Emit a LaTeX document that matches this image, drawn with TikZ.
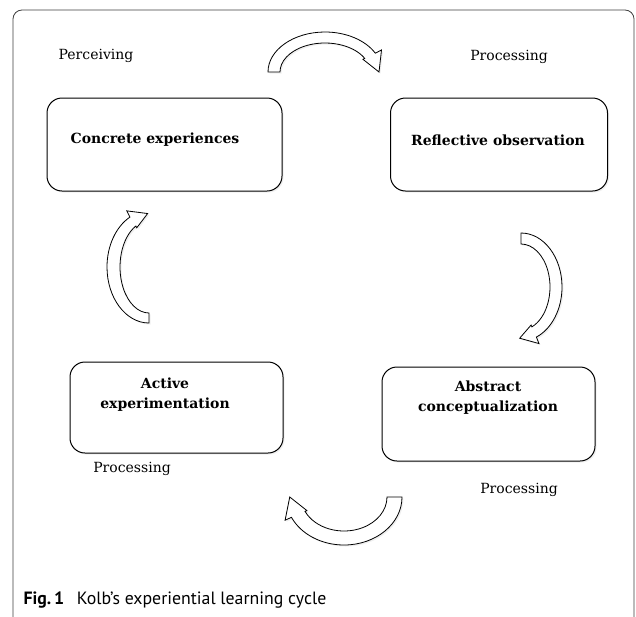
\documentclass[tikz,border=0pt]{standalone}
\usepackage{fontspec}
\setmainfont{DejaVu Serif}
\newfontfamily\captionfont{PT Sans}
\usetikzlibrary{positioning,calc,shadows}

\tikzset{
  frameline/.style={draw=black!75,line width=0.8pt,rounded corners=9pt},
  stage/.style={draw,line width=1pt,rounded corners=15pt,fill=white,
    drop shadow={shadow xshift=1.5pt,shadow yshift=-1.5pt,opacity=0.12}},
  stagetext/.style={font=\bfseries\fontsize{14}{20}\selectfont,align=center},
  phase/.style={font=\fontsize{14}{17}\selectfont},
  cyclearrow/.style={draw,line width=0.8pt,fill=white,line join=miter,
    drop shadow={shadow xshift=1.5pt,shadow yshift=-1.5pt,opacity=0.12}},
}

% curved block arrow: centre, outer radii, inner radii, start, end of shaft, tip angle
\newcommand{\bentarrow}[8]{%
  \pgfmathsetmacro\outa{#2+7}\pgfmathsetmacro\outb{#3+7}%
  \pgfmathsetmacro\ina{#4-2}\pgfmathsetmacro\inb{#5-2}%
  \pgfmathsetmacro\tipa{#2-(#2-#4)/4}\pgfmathsetmacro\tipb{#3-(#3-#5)/4}%
  \draw[cyclearrow] ($#1+(#6:{#2} and {#3})$)
    arc[start angle=#6,end angle=#7,x radius=#2,y radius=#3]
    -- ($#1+(#7:{\outa} and {\outb})$)
    -- ($#1+(#8:{\tipa} and {\tipb})$)
    -- ($#1+(#7:{\ina} and {\inb})$)
    -- ($#1+(#7:{#4} and {#5})$)
    arc[start angle=#7,end angle=#6,x radius=#4,y radius=#5] -- cycle;}

\begin{document}
\begin{tikzpicture}[x=1pt,y=-1pt]
\useasboundingbox[fill=white] (0,0) rectangle (636,616);
\draw[frameline] (13,620) -- (13,10) -- (634,10) -- (634,620);

% the four stages
\node[stage,minimum width=235pt,minimum height=93pt] (concrete) at (164.5,144.5) {};
\node[stage,minimum width=217pt,minimum height=93pt] (reflective) at (499,144.5) {};
\node[stage,minimum width=213pt,minimum height=91pt] (active) at (176.5,407.5) {};
\node[stage,minimum width=213pt,minimum height=94pt] (abstract) at (488.5,414) {};

\node[stagetext] (concretetext) at (155,140) {Concrete experiences};
\node[stagetext] (reflectivetext) at (498,140) {Reflective observation};
\node[stagetext] (activetext) at (165,395) {Active\\experimentation};
\node[stagetext] (abstracttext) at (488,398) {Abstract\\conceptualization};

% labels
\node[phase] (perceiving) at (96,56) {Perceiving};
\node[phase] (processtop) at (509,57) {Processing};
\node[phase] (processleft) at (132,469) {Processing};
\node[phase] (processright) at (519,490) {Processing};

% cycle arrows
\coordinate (topc) at (325,72);
\coordinate (rightc) at (521,287);
\coordinate (bottomc) at (344,497);
\coordinate (leftc) at (149,267);
\bentarrow{(topc)}{57}{40}{45}{29}{180}{332}{360}
\bentarrow{(rightc)}{41}{54}{29}{43}{270}{428}{452}
\bentarrow{(bottomc)}{58}{48}{43}{34}{0}{155}{180}
\bentarrow{(leftc)}{42}{56}{29}{46}{90}{243}{268}

\node[anchor=west,font=\captionfont\fontsize{17.8}{20}\selectfont] (caption) at (20,600)
  {\textbf{Fig.\,1}\hspace{0.7em}Kolb’s experiential learning cycle};
\end{tikzpicture}
\end{document}
